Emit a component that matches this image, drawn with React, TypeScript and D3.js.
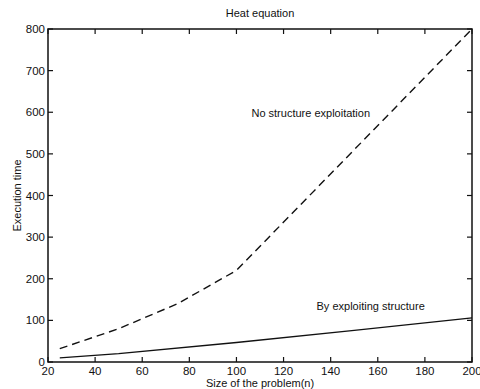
import React, { useRef, useEffect } from "react";
import * as d3 from "d3";

const W = 480;
const H = 389;

// problem size (n) and execution times
const noStructN = [25, 50, 75, 100, 200];
const noStructT = [32, 80, 140, 220, 800];
const withStructN = [25, 50, 100, 150, 200];
const withStructT = [10, 20, 47, 76, 106];

const xTicks = [20, 40, 60, 80, 100, 120, 140, 160, 180, 200];
const yTicks = [0, 100, 200, 300, 400, 500, 600, 700, 800];

const App: React.FC = () => {
  const svgRef = useRef<SVGSVGElement | null>(null);

  useEffect(() => {
    if (!svgRef.current) return;
    const svg = d3.select(svgRef.current);
    svg.selectAll("*").remove();

    const m = { left: 48, right: 8, top: 29, bottom: 27 };
    const x = d3.scaleLinear().domain([20, 200]).range([m.left, W - m.right]);
    const y = d3.scaleLinear().domain([0, 800]).range([H - m.bottom, m.top]);
    const font = '"Liberation Sans", Arial, sans-serif';

    // frame
    svg.append("rect")
      .attr("x", x(20)).attr("y", y(800))
      .attr("width", x(200) - x(20)).attr("height", y(0) - y(800))
      .attr("fill", "none").attr("stroke", "#111").attr("stroke-width", 1.5);

    // inward ticks on all sides (matlab style)
    const tk = 5;
    const g = svg.append("g").attr("stroke", "#111").attr("stroke-width", 1.2);
    xTicks.forEach((v) => {
      g.append("line").attr("x1", x(v)).attr("x2", x(v)).attr("y1", y(0)).attr("y2", y(0) - tk);
      g.append("line").attr("x1", x(v)).attr("x2", x(v)).attr("y1", y(800)).attr("y2", y(800) + tk);
    });
    yTicks.forEach((v) => {
      g.append("line").attr("x1", x(20)).attr("x2", x(20) + tk).attr("y1", y(v)).attr("y2", y(v));
      g.append("line").attr("x1", x(200)).attr("x2", x(200) - tk).attr("y1", y(v)).attr("y2", y(v));
    });

    // tick labels
    svg.append("g").selectAll("text").data(xTicks).join("text")
      .attr("x", (d) => x(d)).attr("y", y(0) + 13)
      .attr("text-anchor", "middle")
      .attr("font-family", font).attr("font-size", 11.5).attr("fill", "#111")
      .text((d) => d);
    svg.append("g").selectAll("text").data(yTicks).join("text")
      .attr("x", x(20) - 3).attr("y", (d) => y(d)).attr("dy", "0.35em")
      .attr("text-anchor", "end")
      .attr("font-family", font).attr("font-size", 11.5).attr("fill", "#111")
      .text((d) => d);

    const line = d3.line<[number, number]>().x((d) => x(d[0])).y((d) => y(d[1]));

    svg.append("path")
      .attr("d", line(noStructN.map((n, i) => [n, noStructT[i]])))
      .attr("fill", "none").attr("stroke", "#111").attr("stroke-width", 1.4)
      .attr("stroke-dasharray", "8,5");

    svg.append("path")
      .attr("d", line(withStructN.map((n, i) => [n, withStructT[i]])))
      .attr("fill", "none").attr("stroke", "#111").attr("stroke-width", 1.4);

    // annotations
    svg.append("text")
      .attr("x", x(100) + 15).attr("y", y(600) + 5)
      .attr("font-family", font).attr("font-size", 11).attr("fill", "#111")
      .text("No structure exploitation");
    svg.append("text")
      .attr("x", x(134)).attr("y", y(125))
      .attr("font-family", font).attr("font-size", 11).attr("fill", "#111")
      .text("By exploiting structure");

    // title and axis labels
    const cx = (x(20) + x(200)) / 2;
    svg.append("text")
      .attr("x", cx).attr("y", 17).attr("text-anchor", "middle")
      .attr("font-family", font).attr("font-size", 11).attr("fill", "#111")
      .text("Heat equation");
    svg.append("text")
      .attr("x", cx).attr("y", H - 2).attr("text-anchor", "middle")
      .attr("font-family", font).attr("font-size", 11).attr("fill", "#111")
      .text("Size of the problem(n)");
    svg.append("text")
      .attr("transform", `translate(21,${(y(0) + y(800)) / 2}) rotate(-90)`)
      .attr("text-anchor", "middle")
      .attr("font-family", font).attr("font-size", 11).attr("fill", "#111")
      .text("Execution time");
  }, []);

  return (
    <svg
      ref={svgRef}
      width={W}
      height={H}
      style={{ position: "absolute", left: 0, top: 0, background: "#fff" }}
    />
  );
};

export default App;
